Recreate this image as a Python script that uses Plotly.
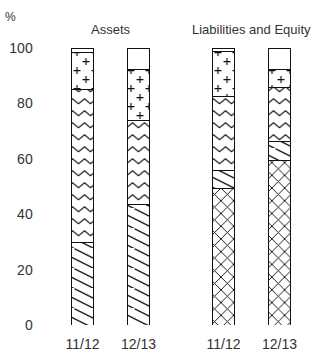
import plotly.graph_objects as go
from plotly.subplots import make_subplots

# ---------------- data ----------------
periods = ["11/12", "12/13"]
group_titles = ["Assets", "Liabilities and Equity"]

# Assets, stacked bottom -> top (% of total)
assets_hatched = [29.7, 43.6]
assets_zigzag = [55.3, 30.4]
assets_plus = [13.2, 18.1]
assets_blank = [1.8, 7.9]

# Liabilities and Equity, stacked bottom -> top (% of total)
liab_cross = [49.2, 59.4]
liab_hatched = [6.4, 6.7]
liab_zigzag = [26.8, 19.8]
liab_plus = [16.2, 6.4]
liab_blank = [1.4, 7.7]

y_ticks = [0, 20, 40, 60, 80, 100]

# ---------------- styles ----------------
INK = "#111111"
TXT = "#333333"
FONT = "Liberation Sans, Arial, sans-serif"


def zig_row(y0, amp=5, period=12, width=24, th=1.4):
    xs = list(range(0, width + 1, period // 2))
    top = [f"{x},{y0 + (amp if (i % 2 == 0) else 0)}" for i, x in enumerate(xs)]
    bot = [f"{x},{y0 + th + (amp if (i % 2 == 0) else 0)}" for i, x in enumerate(xs)]
    return "M" + "L".join(top) + "L" + "L".join(reversed(bot)) + "Z"


pat_diag = dict(path="M0,0L20,10L20,11.5L0,1.5Z M0,10L20,20L20,21.5L0,11.5Z",
                size=20, fgcolor=INK, bgcolor="white", fgopacity=1)
pat_zig = dict(path=zig_row(2) + " " + zig_row(14),
               size=24, fgcolor=INK, bgcolor="white", fgopacity=1)
pat_plus = dict(path=("M1,4h7v1.2h-7z M3.9,1h1.2v7h-1.2z "
                      "M10,13h7v1.2h-7z M12.9,10h1.2v7h-1.2z"),
                size=18, fgcolor=INK, bgcolor="white", fgopacity=1)
pat_cross = dict(shape="x", size=9, solidity=0.2, fgcolor=INK,
                 bgcolor="white", fgopacity=1)
pat_none = dict(shape="")

fig = make_subplots(rows=1, cols=2)


def add_stack(col, segments):
    for vals, pat in segments:
        fig.add_trace(
            go.Bar(x=periods, y=vals,
                   marker=dict(color="white", line=dict(color=INK, width=1),
                               pattern=pat),
                   showlegend=False, hoverinfo="skip"),
            row=1, col=col)


add_stack(1, [(assets_hatched, pat_diag), (assets_zigzag, pat_zig),
              (assets_plus, pat_plus), (assets_blank, pat_none)])
add_stack(2, [(liab_cross, pat_cross), (liab_hatched, pat_diag),
              (liab_zigzag, pat_zig), (liab_plus, pat_plus),
              (liab_blank, pat_none)])

W, H = 313, 357
ML, MR, MT, MB = 40, 5, 48, 23
PW = W - ML - MR

xaxis_common = dict(type="category", showgrid=False, zeroline=False,
                    showline=False, ticks="outside", ticklen=6,
                    tickcolor="rgba(0,0,0,0)",
                    tickfont=dict(size=14, color=TXT, family=FONT))
fig.update_xaxes(**xaxis_common)
fig.update_layout(
    xaxis=dict(domain=[(54.5 - ML) / PW, (166.5 - ML) / PW]),
    xaxis2=dict(domain=[(195.5 - ML) / PW, (307.5 - ML) / PW]),
)
fig.update_yaxes(range=[0, 100], showgrid=False, zeroline=False,
                 showline=False, tickvals=y_ticks, ticks="outside",
                 ticklen=18, tickcolor="rgba(0,0,0,0)",
                 tickfont=dict(size=14, color=TXT, family=FONT))
fig.update_yaxes(showticklabels=False, row=1, col=2)

annotations = [
    dict(text="%", x=(10 - ML) / PW, y=(H - MB - 16) / (H - MT - MB),
         xref="paper", yref="paper", showarrow=False,
         xanchor="center", yanchor="middle",
         font=dict(size=12, color=TXT, family=FONT)),
]
for title, cx in zip(group_titles, [110.5, 251.5]):
    annotations.append(dict(text=title, x=(cx - ML) / PW,
                            y=(H - MB - 29) / (H - MT - MB),
                            xref="paper", yref="paper", showarrow=False,
                            xanchor="center", yanchor="middle",
                            font=dict(size=13, color=TXT, family=FONT)))

fig.update_layout(
    width=W, height=H, barmode="stack", bargap=0.59,
    margin=dict(l=ML, r=MR, t=MT, b=MB, pad=0),
    paper_bgcolor="white", plot_bgcolor="white",
    font=dict(family=FONT, color=TXT),
    annotations=annotations,
)

fig.write_html("out.html", config={"displayModeBar": False},
               post_script="document.body.style.margin='0';"
                           "document.body.style.overflow='hidden';")
